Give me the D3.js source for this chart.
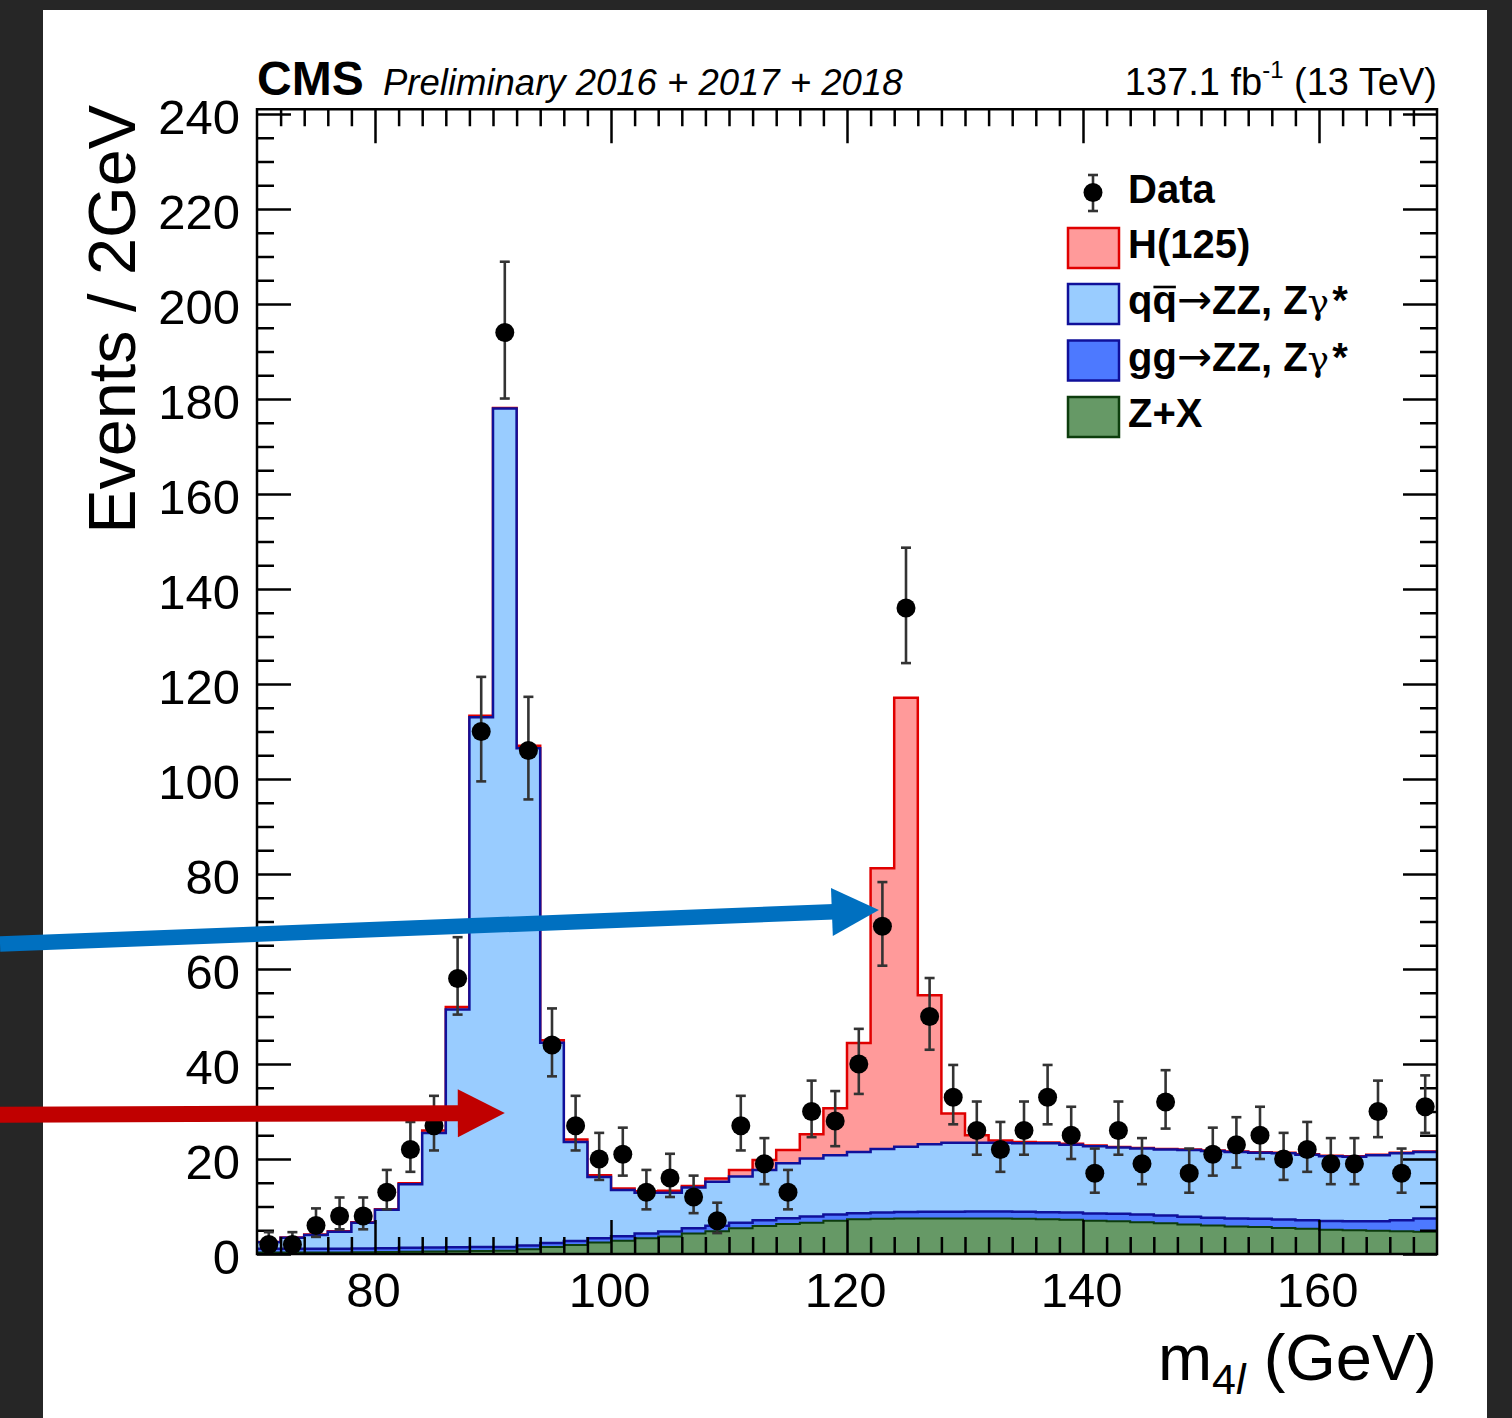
<!DOCTYPE html>
<html><head><meta charset="utf-8">
<script src="https://cdn.jsdelivr.net/npm/d3@7"></script>
<style>html,body{margin:0;padding:0;background:#262626;}svg{display:block;}</style>
</head><body>
<svg id="c" width="1512" height="1418"></svg>
<script>
// ---------------- data ----------------
const massBins = [71,73,75,77,79,81,83,85,87,89,91,93,95,97,99,101,103,105,107,109,
  111,113,115,117,119,121,123,125,127,129,131,133,135,137,139,141,143,145,147,149,
  151,153,155,157,159,161,163,165,167,169];
const dataCounts = [2,2,6,8,8,13,22,27,58,110,194,106,44,27,20,21,13,16,12,7,
  27,19,13,30,28,40,69,136,50,33,26,22,26,33,25,17,26,19,32,17,
  21,23,25,20,22,19,19,30,17,31];
const dataErrLow = [1.3,1.3,2.4,2.8,2.8,3.6,4.7,5.2,7.6,10.5,13.9,10.3,6.6,5.2,4.4,4.5,3.6,4.0,3.4,2.6,
  5.2,4.3,3.6,5.4,5.3,6.3,8.3,11.6,7.0,5.7,5.1,4.7,5.1,5.7,5.0,4.1,5.1,4.3,5.6,4.1,
  4.5,4.8,5.0,4.4,4.7,4.3,4.3,5.4,4.1,5.5];
const dataErrHigh = [2.6,2.6,3.6,3.9,3.9,4.7,5.8,6.3,8.7,11.5,14.9,11.3,7.7,6.3,5.5,5.6,4.7,5.1,4.5,3.8,
  6.3,5.4,4.7,6.5,6.3,7.4,9.3,12.7,8.1,6.8,6.1,5.8,6.1,6.8,6.0,5.2,6.1,5.4,6.7,5.2,
  5.6,5.8,6.0,5.5,5.8,5.4,5.4,6.5,5.2,6.6];
const zxYield = [0.3,0.3,0.3,0.3,0.35,0.4,0.5,0.55,0.6,0.65,0.7,1.0,1.5,1.9,2.4,2.8,3.3,3.7,4.3,4.8,
  5.4,5.9,6.3,6.6,7.0,7.3,7.4,7.5,7.5,7.5,7.5,7.5,7.4,7.3,7.2,7.0,6.9,6.7,6.5,6.2,
  6.0,5.8,5.7,5.5,5.3,5.1,5.0,4.9,4.8,4.7];
const ggZZ = [0.8,0.8,0.8,0.8,0.8,0.8,0.8,0.8,0.8,0.8,0.8,0.8,0.8,0.85,0.9,0.95,1.0,1.05,1.1,1.15,
  1.2,1.2,1.25,1.3,1.3,1.3,1.35,1.35,1.4,1.4,1.45,1.45,1.5,1.5,1.55,1.55,1.6,1.6,1.6,1.65,
  1.65,1.7,1.7,1.75,1.8,1.85,1.9,2.0,2.3,2.8];
const qqZZ = [1.4,2.3,2.9,3.6,5.45,8.1,13.4,24.15,50.1,111.55,176.5,104.7,42.2,20.85,12.9,9.75,8.6,8.15,8.6,9.25,
  9.7,10.6,11.55,12.2,12.5,12.9,13.35,13.75,14.2,14.5,14.45,14.45,14.4,14.5,14.25,14.15,13.9,13.9,13.9,14.05,
  14.05,14.0,13.9,13.95,13.8,13.65,13.6,13.9,14.1,14.0];
const higgs = [0.05,0.1,0.1,0.1,0.1,0.1,0.2,0.5,0.5,0.3,0.1,0.5,0.5,0.5,0.4,0.3,0.3,0.4,0.3,0.7,
  1.4,2.1,2.8,5.1,9.9,22.9,59.1,94.5,31.4,6.2,1.6,0.5,0.3,0.2,0.2,0.15,0.15,0.1,0.1,0.1,
  0.1,0.1,0.1,0.1,0.1,0.1,0.1,0.1,0.1,0.1];
const xTicks = [80,100,120,140,160];
const yTicks = [0,20,40,60,80,100,120,140,160,180,200,220,240];
const legendLabels = ["Data","H(125)","qq\u2192ZZ, Z\u03b3*","gg\u2192ZZ, Z\u03b3*","Z+X"];
// annotation arrows in data coordinates [mass, events]
const arrowFrom = [[48.22,65.26],[48.22,29.33]];
const arrowTo = [[122.7,72.4],[91.0,29.68]];
const arrowColors = ["#0070c0","#c00000"];

// ---------------- setup ----------------
const FONT = "'Liberation Sans', Arial, Helvetica, sans-serif";
const svg = d3.select("#c");
svg.append("rect").attr("width",1512).attr("height",1418).attr("fill","#262626");
svg.append("rect").attr("x",43).attr("y",10).attr("width",1444).attr("height",1408).attr("fill","#fff");

const x = d3.scaleLinear().domain([70,170]).range([257,1437]);
const y = d3.scaleLinear().domain([0,241]).range([1254,109.25]);
const halfBin = 1;

const rows = massBins.map((m,i)=>({m, zx:zxYield[i], gg:ggZZ[i], qq:qqZZ[i], h:higgs[i]}));
const keys = ["zx","gg","qq","h"];
const series = d3.stack().keys(keys)(rows);
const style = {
  h:  {fill:"#ff9a9a", stroke:"#e00000", w:2.5},
  qq: {fill:"#99ccff", stroke:"#10109a", w:2.5},
  gg: {fill:"#4d79ff", stroke:"#10109a", w:2.5},
  zx: {fill:"#669966", stroke:"#0d3d0d", w:2}
};
const area = d3.area().x(d=>x(d.e)).y0(y(0)).y1(d=>y(d.v)).curve(d3.curveStepAfter);
const line = d3.line().x(d=>x(d.e)).y(d=>y(d.v)).curve(d3.curveStepAfter);

const histG = svg.append("g");
series.slice().reverse().forEach(s=>{
  const pts = s.map((d,i)=>({e: rows[i].m - halfBin, v: d[1]}));
  pts.push({e: rows[rows.length-1].m + halfBin, v: s[s.length-1][1]});
  const st = style[s.key];
  histG.append("path").attr("d", area(pts)).attr("fill", st.fill);
  histG.append("path").attr("d", line(pts)).attr("fill","none")
    .attr("stroke", st.stroke).attr("stroke-width", st.w);
});

// ---------------- axes ----------------
const xMinor = d3.range(72,170,2).filter(v=>v%20!==0);
const yMinor = d3.range(5,241,5).filter(v=>v%20!==0);
function styleAxis(g){
  g.select(".domain").remove();
  g.selectAll(".tick line").attr("stroke","#000").attr("stroke-width",2.5);
  g.attr("font-family",FONT).attr("font-size",49);
  g.selectAll(".tick text").attr("fill","#000");
}
const MAJ = 34, MIN = 17;
svg.append("g").attr("transform",`translate(0,${y(0)})`)
  .call(d3.axisBottom(x).tickValues(xTicks).tickSize(-MAJ).tickPadding(18).tickFormat(d3.format("d"))).call(styleAxis)
  .selectAll(".tick text").attr("dx",-2);
svg.append("g").attr("transform",`translate(0,${y(0)})`)
  .call(d3.axisBottom(x).tickValues(xMinor).tickSize(-MIN).tickFormat("")).call(styleAxis);
svg.append("g").attr("transform",`translate(0,${y(241)})`)
  .call(d3.axisTop(x).tickValues(xTicks).tickSize(-MAJ).tickFormat("")).call(styleAxis);
svg.append("g").attr("transform",`translate(0,${y(241)})`)
  .call(d3.axisTop(x).tickValues(xMinor).tickSize(-MIN).tickFormat("")).call(styleAxis);
const yl = svg.append("g").attr("transform",`translate(${x(70)},0)`)
  .call(d3.axisLeft(y).tickValues(yTicks).tickSize(-MAJ).tickPadding(17).tickFormat(d3.format("d"))).call(styleAxis);
yl.selectAll(".tick text").attr("dy","0.40em");
svg.append("g").attr("transform",`translate(${x(70)},0)`)
  .call(d3.axisLeft(y).tickValues(yMinor).tickSize(-MIN).tickFormat("")).call(styleAxis);
svg.append("g").attr("transform",`translate(${x(170)},0)`)
  .call(d3.axisRight(y).tickValues(yTicks).tickSize(-MAJ).tickFormat("")).call(styleAxis);
svg.append("g").attr("transform",`translate(${x(170)},0)`)
  .call(d3.axisRight(y).tickValues(yMinor).tickSize(-MIN).tickFormat("")).call(styleAxis);
svg.append("rect").attr("x",x(70)).attr("y",y(241)).attr("width",x(170)-x(70)).attr("height",y(0)-y(241))
  .attr("fill","none").attr("stroke","#000").attr("stroke-width",2.5);

// ---------------- data points ----------------
const dg = svg.append("g");
const CAP = 5, R = 9.5;
massBins.forEach((m,i)=>{
  const cx = x(m), cy = y(dataCounts[i]);
  const yt = y(dataCounts[i]+dataErrHigh[i]), yb = y(dataCounts[i]-dataErrLow[i]);
  dg.append("line").attr("x1",cx).attr("x2",cx).attr("y1",yt).attr("y2",yb).attr("stroke","#333").attr("stroke-width",2.6);
  dg.append("line").attr("x1",cx-CAP).attr("x2",cx+CAP).attr("y1",yt).attr("y2",yt).attr("stroke","#333").attr("stroke-width",2.6);
  dg.append("line").attr("x1",cx-CAP).attr("x2",cx+CAP).attr("y1",yb).attr("y2",yb).attr("stroke","#333").attr("stroke-width",2.6);
  dg.append("circle").attr("cx",cx).attr("cy",cy).attr("r",R).attr("fill","#000");
});

// ---------------- header texts ----------------
svg.append("text").attr("x",257).attr("y",95).attr("font-family",FONT).attr("font-weight","bold")
  .attr("font-size",48).text("CMS");
svg.append("text").attr("x",383).attr("y",95).attr("font-family",FONT).attr("font-style","italic")
  .attr("font-size",36.5).text("Preliminary 2016 + 2017 + 2018");
const lumi = svg.append("text").attr("x",1437).attr("y",95).attr("text-anchor","end")
  .attr("font-family",FONT).attr("font-size",38);
lumi.append("tspan").text("137.1 fb");
lumi.append("tspan").attr("font-size",24).attr("dy",-17).text("-1");
lumi.append("tspan").attr("dy",17).text(" (13 TeV)");

// axis titles
svg.append("text").attr("transform","translate(135,105) rotate(-90)").attr("text-anchor","end")
  .attr("font-family",FONT).attr("font-size",66.5).text("Events / 2GeV");
const xt = svg.append("text").attr("x",1437).attr("y",1380).attr("text-anchor","end")
  .attr("font-family",FONT).attr("font-size",65);
xt.append("tspan").text("m");
xt.append("tspan").attr("font-size",43).attr("dy",14).text("4");
xt.append("tspan").attr("font-size",43).attr("font-style","italic").text("l");
xt.append("tspan").attr("dy",-14).text(" (GeV)");

// ---------------- legend ----------------
const lg = svg.append("g").attr("font-family",FONT).attr("font-weight","bold").attr("font-size",40);
const baselines = [203,258,314,370.5,427];
// data entry
lg.append("line").attr("x1",1093).attr("x2",1093).attr("y1",175).attr("y2",211).attr("stroke","#333").attr("stroke-width",2.6);
lg.append("line").attr("x1",1088).attr("x2",1098).attr("y1",175).attr("y2",175).attr("stroke","#333").attr("stroke-width",2.6);
lg.append("line").attr("x1",1088).attr("x2",1098).attr("y1",211).attr("y2",211).attr("stroke","#333").attr("stroke-width",2.6);
lg.append("circle").attr("cx",1093).attr("cy",192.5).attr("r",R).attr("fill","#000");
lg.append("text").attr("x",1128).attr("y",baselines[0]).text(legendLabels[0]);
const boxKeys = ["h","qq","gg","zx"];
boxKeys.forEach((k,j)=>{
  const b = baselines[j+1];
  lg.append("rect").attr("x",1068).attr("y",b-30).attr("width",51).attr("height",40)
    .attr("fill",style[k].fill).attr("stroke",style[k].stroke).attr("stroke-width",2.5);
  const t = lg.append("text").attr("x",1128).attr("y",b);
  const lab = legendLabels[j+1];
  if (k==="h" || k==="zx") { t.text(lab); return; }
  t.append("tspan").text(lab.slice(0,2));
  t.append("tspan").attr("font-weight","normal").attr("font-size",42)
    .attr("font-family","'DejaVu Sans', sans-serif").text("\u2192");
  t.append("tspan").text("ZZ, Z");
  t.append("tspan").attr("font-weight","normal").attr("font-size",36)
    .attr("font-family","'DejaVu Serif', serif").text("\u03b3");
  t.append("tspan").attr("dx",3).text("*");
  if (k==="qq") {
    const n = t.node();
    const s = n.getStartPositionOfChar(1), e = n.getEndPositionOfChar(1);
    lg.append("line").attr("x1",s.x+1).attr("x2",e.x-1).attr("y1",b-27).attr("y2",b-27)
      .attr("stroke","#000").attr("stroke-width",2.6);
  }
});

// ---------------- annotation arrows ----------------
arrowFrom.forEach((f,i)=>{
  const x0 = x(f[0]), y0 = y(f[1]), x1 = x(arrowTo[i][0]), y1 = y(arrowTo[i][1]);
  const dx = x1-x0, dy = y1-y0, L = Math.hypot(dx,dy), ux = dx/L, uy = dy/L;
  const headLen = 47, headHalf = 24, shaftW = i===0 ? 15.5 : 16;
  const bx = x1 - ux*headLen, by = y1 - uy*headLen;
  svg.append("line").attr("x1",x0).attr("y1",y0).attr("x2",bx+ux*2).attr("y2",by+uy*2)
    .attr("stroke",arrowColors[i]).attr("stroke-width",shaftW);
  svg.append("polygon").attr("points",[[x1,y1],[bx - uy*headHalf, by + ux*headHalf],[bx + uy*headHalf, by - ux*headHalf]].map(p=>p.join(",")).join(" "))
    .attr("fill",arrowColors[i]);
});
</script>
</body></html>
